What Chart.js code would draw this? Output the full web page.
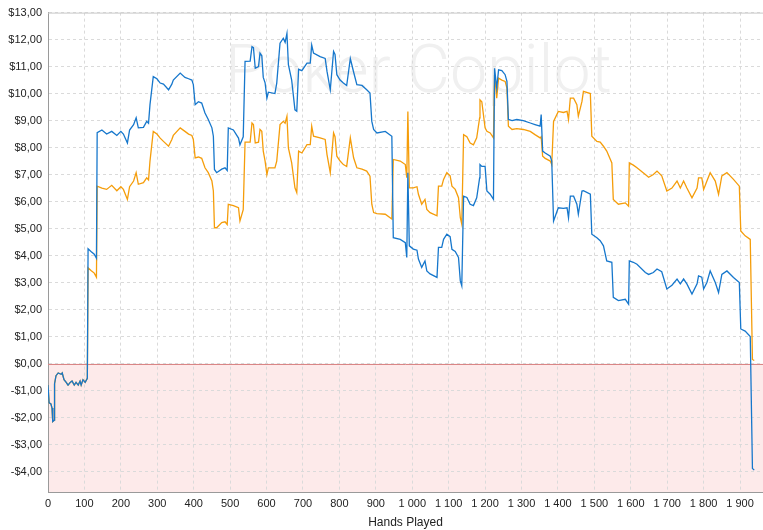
<!DOCTYPE html>
<html>
<head>
<meta charset="utf-8">
<script src="https://cdn.jsdelivr.net/npm/chart.js@4.4.1/dist/chart.umd.min.js"></script>
<style>
  html, body { margin: 0; padding: 0; background: #fff; }
  #wrap { width: 763px; height: 530px; }
</style>
</head>
<body>
<div id="wrap"><canvas id="graph" width="763" height="530"></canvas></div>
<script>
// Hands played (x) and running winnings in dollars for the two lines
const hands = [
  0, 3, 8, 11, 13, 17, 18, 22, 28, 36,
  39, 44, 50, 55, 61, 66, 72, 77, 83, 88,
  91, 96, 102, 108, 110, 118, 127, 133, 135, 148,
  161, 175, 189, 200, 207, 218, 224, 235, 242, 248,
  262, 271, 276, 280, 289, 299, 308, 317, 331, 340,
  344, 363, 376, 386, 395, 399, 404, 413, 422, 431,
  440, 450, 454, 457, 463, 477, 486, 492, 495, 509,
  523, 527, 536, 541, 555, 560, 564, 569, 578, 582,
  587, 591, 596, 601, 605, 623, 628, 637, 646, 651,
  656, 660, 669, 678, 683, 688, 697, 711, 720, 724,
  729, 747, 761, 766, 775, 784, 788, 793, 802, 811,
  820, 830, 839, 848, 862, 875, 884, 889, 894, 903,
  926, 944, 948, 967, 981, 985, 988, 992, 1003, 1013,
  1017, 1026, 1035, 1040, 1049, 1068, 1072, 1081, 1086, 1095,
  1104, 1109, 1118, 1127, 1132, 1136, 1141, 1150, 1159, 1168,
  1177, 1185, 1186, 1191, 1200, 1205, 1214, 1223, 1226, 1232,
  1237, 1246, 1255, 1260, 1264, 1274, 1287, 1305, 1324, 1337,
  1351, 1354, 1358, 1365, 1379, 1383, 1388, 1401, 1415, 1425,
  1429, 1434, 1443, 1452, 1456, 1466, 1470, 1489, 1493, 1507,
  1516, 1525, 1534, 1548, 1552, 1566, 1585, 1594, 1596, 1607,
  1617, 1640, 1649, 1662, 1672, 1685, 1699, 1713, 1727, 1736,
  1745, 1754, 1768, 1782, 1786, 1795, 1800, 1809, 1818, 1832,
  1841, 1850, 1864, 1882, 1898, 1902, 1914, 1928, 1934, 1939
];

const netWon = [
  -0.8, -1.45, -1.5, -1.65, -2.15, -2.1, -0.75, -0.45, -0.35, -0.4,
  -0.35, -0.6, -0.7, -0.8, -0.7, -0.65, -0.8, -0.7, -0.8, -0.65,
  -0.8, -0.6, -0.7, -0.55, 4.25, 4.15, 4.05, 3.9, 8.55, 8.65,
  8.5, 8.6, 8.45, 8.6, 8.5, 8.17, 8.65, 8.85, 9.1, 8.73,
  8.75, 8.97, 8.9, 9.59, 10.63, 10.55, 10.39, 10.35, 10.14, 10.35,
  10.5, 10.76, 10.6, 10.55, 10.5, 10.33, 9.59, 9.7, 9.65, 9.28,
  9.04, 8.73, 8.42, 7.19, 7.07, 7.2, 7.25, 7.15, 8.73, 8.65,
  8.35, 8.1, 8.4, 11.19, 11.2, 11.74, 11.7, 10.94, 11.0, 11.5,
  11.4, 10.6, 10.4, 9.83, 10.05, 10.0, 10.39, 11.87, 12.05, 11.9,
  12.23, 11.07, 10.5, 9.4, 9.35, 10.9, 10.85, 11.13, 11.13, 11.8,
  11.5, 11.37, 11.3, 10.82, 10.14, 11.56, 11.45, 10.7, 10.5, 10.39,
  10.3, 11.3, 10.8, 10.33, 10.3, 10.14, 10.02, 8.97, 8.67, 8.54,
  8.6, 8.42, 4.66, 4.6, 4.48, 3.93, 7.07, 4.36, 4.24, 4.2,
  3.87, 3.56, 3.8, 3.43, 3.32, 3.19, 4.3, 4.3, 4.6, 4.79,
  4.7, 4.23, 4.15, 3.93, 3.06, 2.88, 6.2, 6.15, 5.9, 5.85,
  6.14, 6.88, 7.37, 7.3, 7.3, 6.39, 6.27, 6.08, 10.94, 10.2,
  10.88, 10.85, 10.7, 10.45, 9.04, 9.0, 9.04, 9.0, 8.91, 8.85,
  8.79, 9.22, 7.87, 7.8, 7.68, 7.5, 5.28, 5.77, 5.75, 5.77,
  5.4, 6.2, 6.2, 5.9, 5.53, 6.39, 6.4, 6.27, 4.79, 4.66,
  4.55, 4.36, 3.8, 3.75, 2.45, 2.33, 2.38, 2.2, 3.8, 3.75,
  3.68, 3.37, 3.3, 3.37, 3.5, 3.4, 2.76, 2.9, 3.13, 2.95,
  3.13, 2.95, 2.57, 2.95, 3.25, 3.2, 2.76, 3.0, 3.43, 3.0,
  2.63, 3.3, 3.43, 3.19, 3.0, 1.28, 1.2, 1.0, -3.89, -3.95
];

const allInEv = [
  -0.8, -1.45, -1.5, -1.65, -2.15, -2.1, -0.75, -0.45, -0.35, -0.4,
  -0.35, -0.6, -0.7, -0.8, -0.7, -0.65, -0.8, -0.7, -0.8, -0.65,
  -0.8, -0.6, -0.7, -0.55, 3.55, 3.45, 3.35, 3.2, 6.57, 6.5,
  6.45, 6.6, 6.4, 6.55, 6.45, 6.08, 6.55, 6.76, 7.07, 6.64,
  6.7, 6.88, 6.8, 7.5, 8.6, 8.5, 8.35, 8.23, 8.05, 8.3,
  8.45, 8.73, 8.6, 8.5, 8.45, 8.3, 7.62, 7.65, 7.6, 7.25,
  7.07, 6.76, 6.39, 5.03, 5.03, 5.22, 5.25, 5.15, 5.9, 5.85,
  5.77, 5.28, 5.7, 8.2, 8.2, 8.91, 8.85, 8.17, 8.2, 8.67,
  8.6, 7.87, 7.5, 7.0, 7.25, 7.25, 7.5, 8.85, 8.97, 8.9,
  9.16, 7.99, 7.43, 6.51, 6.33, 7.87, 7.8, 8.11, 8.11, 8.79,
  8.42, 8.36, 8.3, 7.74, 7.07, 8.54, 8.4, 7.68, 7.5, 7.37,
  7.3, 8.36, 7.62, 7.25, 7.2, 7.13, 6.94, 5.9, 5.59, 5.55,
  5.53, 5.35, 7.56, 7.5, 7.37, 6.88, 9.34, 6.51, 6.51, 6.55,
  6.27, 5.9, 6.08, 5.71, 5.59, 5.47, 6.57, 6.57, 6.82, 7.07,
  6.95, 6.57, 6.45, 6.14, 5.4, 5.16, 8.48, 8.4, 8.17, 8.1,
  8.36, 9.1, 9.77, 9.7, 8.73, 8.6, 8.54, 8.36, 10.7, 9.83,
  10.57, 10.5, 10.45, 10.2, 8.79, 8.67, 8.7, 8.67, 8.6, 8.48,
  8.36, 8.4, 7.68, 7.6, 7.5, 7.37, 8.97, 9.34, 9.3, 9.34,
  9.04, 9.83, 9.83, 9.59, 9.16, 9.71, 10.08, 10.0, 8.42, 8.23,
  8.2, 8.05, 7.87, 7.43, 6.08, 5.9, 5.95, 5.83, 7.43, 7.35,
  7.25, 7.0, 6.9, 7.0, 7.13, 6.95, 6.39, 6.5, 6.76, 6.5,
  6.76, 6.5, 6.14, 6.5, 6.88, 6.88, 6.45, 6.76, 7.07, 6.76,
  6.27, 6.95, 7.07, 6.82, 6.57, 4.91, 4.73, 4.6, 0.15, 0.11
];

const xTicks = [0, 100, 200, 300, 400, 500, 600, 700, 800, 900, 1000,
  1100, 1200, 1300, 1400, 1500, 1600, 1700, 1800, 1900];
const yTicks = [-4, -3, -2, -1, 0, 1, 2, 3, 4, 5, 6, 7, 8, 9, 10, 11, 12, 13];
const watermark = "Poker Copilot";

function fmtHands(v) {
  const s = String(v);
  return s.length > 3 ? s.slice(0, -3) + " " + s.slice(-3) : s;
}
function fmtDollars(v) {
  const s = "$" + Math.abs(v).toFixed(2).replace(".", ",");
  return v < 0 ? "-" + s : s;
}
function points(vals) {
  return hands.map((h, i) => ({ x: h, y: vals[i] }));
}

// pink loss zone, watermark, zero line, top border
const backdrop = {
  id: "backdrop",
  beforeDraw(chart) {
    const { ctx, chartArea: a, scales: { y } } = chart;
    ctx.save();
    ctx.fillStyle = "#fff";
    ctx.fillRect(0, 0, chart.width, chart.height);
    const y0 = y.getPixelForValue(0);
    ctx.fillStyle = "#fdeaea";
    ctx.fillRect(a.left, y0, a.right - a.left, a.bottom - y0);

    ctx.font = '300 80px Roboto, Lato, "Open Sans", sans-serif';
    const w = ctx.measureText(watermark).width;
    const size = 80 * 387 / w;
    ctx.font = '300 ' + size + 'px Roboto, Lato, "Open Sans", sans-serif';
    ctx.fillStyle = "#f0f0f0";
    ctx.textBaseline = "alphabetic";
    ctx.fillText(watermark, 225, 92);
    ctx.restore();
  },
  beforeDatasetsDraw(chart) {
    const { ctx, chartArea: a, scales: { y } } = chart;
    const y0 = Math.round(y.getPixelForValue(0)) + 0.5;
    ctx.save();
    ctx.lineWidth = 1;
    ctx.strokeStyle = "#d98585";
    ctx.beginPath();
    ctx.moveTo(a.left, y0);
    ctx.lineTo(a.right, y0);
    ctx.stroke();
    ctx.strokeStyle = "#c8c8c8";
    ctx.beginPath();
    ctx.moveTo(a.left, a.top + 0.5);
    ctx.lineTo(a.right, a.top + 0.5);
    ctx.stroke();
    ctx.restore();
  }
};

new Chart(document.getElementById("graph"), {
  type: "line",
  data: {
    datasets: [
      {
        label: "Net won",
        data: points(netWon),
        borderColor: "#1677cc",
        borderWidth: 1.3,
        pointRadius: 0,
        tension: 0
      },
      {
        label: "All-in EV",
        data: points(allInEv),
        borderColor: "#f59d0a",
        borderWidth: 1.3,
        pointRadius: 0,
        tension: 0
      }
    ]
  },
  options: {
    responsive: false,
    animation: false,
    devicePixelRatio: 1,
    layout: { padding: { top: 11, right: 0, left: 0, bottom: 0 } },
    plugins: { legend: { display: false }, tooltip: { enabled: false } },
    scales: {
      x: {
        type: "linear",
        min: 0,
        max: 1963,
        afterBuildTicks: s => { s.ticks = xTicks.map(v => ({ value: v })); },
        afterFit: s => { s.height = 38; },
        grid: { color: "#dadada", drawTicks: false },
        border: { color: "#9a9a9a", dash: [3, 3] },
        ticks: {
          padding: 5,
          color: "#222",
          font: { family: "Liberation Sans", size: 11 },
          maxRotation: 0,
          autoSkip: false,
          callback: v => fmtHands(v)
        },
        title: {
          display: true,
          text: "Hands Played",
          color: "#222",
          font: { family: "Liberation Sans", size: 12 },
          padding: { top: 2, bottom: 0 }
        }
      },
      y: {
        min: -4.76,
        max: 13,
        afterBuildTicks: s => { s.ticks = yTicks.map(v => ({ value: v })); },
        afterFit: s => { s.width = 48; },
        grid: { color: "#dadada", drawTicks: false },
        border: { color: "#9a9a9a", dash: [3, 3] },
        ticks: {
          padding: 6,
          color: "#222",
          font: { family: "Liberation Sans", size: 11 },
          autoSkip: false,
          callback: v => fmtDollars(v)
        }
      }
    }
  },
  plugins: [backdrop]
});
</script>
</body>
</html>
